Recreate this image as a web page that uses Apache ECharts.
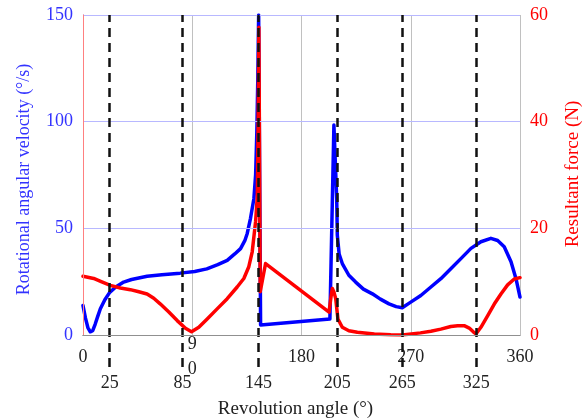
<!DOCTYPE html>
<html>
<head>
<meta charset="utf-8">
<script src="https://cdn.jsdelivr.net/npm/echarts@6/dist/echarts.min.js"></script>
<style>html,body{margin:0;padding:0;background:#fff}#c{width:586px;height:419px}</style>
</head>
<body>
<div id="c"></div>
<script>
// Rotational angular velocity (°/s) vs revolution angle (°)
const velocityData = [
  [0,13.8],[2,8],[4,3.5],[6,1.5],[7,1.3],[8,2],[10,5],[12,8.5],[14.3,12.3],[18,16.5],[22,20],
  [27,22.5],[33.5,24.8],[40,26],[52.8,27.5],[65,28.2],[80,29],[92,29.8],[102,31],[111,33],
  [118.8,35],[125,38],[129.8,40.5],[133.5,44.5],[135.3,47.6],[138,54.7],[140.8,64],[142.2,75],
  [143.2,95],[144,120],[144.7,150],[145.3,150],[146.3,4.7],
  [203.4,7.5],[206.7,98.4],[209,64],[209.5,46.8],[211,38],[213.6,33.5],[219,28],[224.6,24.8],
  [231,21.5],[238.4,19.3],[245,16.8],[252.1,14.6],[258,13.3],[263,12.8],[270,15.4],[278.3,18.5],
  [286.6,22.5],[294.8,26.4],[303,31],[311.3,35.8],[319.6,40.6],[327.8,43.7],[336,45.3],
  [341.6,44.3],[347,41.4],[352.6,34.3],[356.7,26.4],[360,17.8]
];
// Resultant force (N) vs revolution angle (°)
const forceData = [
  [0,11],[8.8,10.6],[15,10],[22.5,9.3],[30.8,8.8],[39,8.5],[46,8.1],[52.8,7.7],[58.3,6.9],[63.8,5.8],
  [70.7,4.3],[77.6,2.7],[84.4,1.25],[89.4,0.6],[95.4,1.45],[102.3,3],[110.5,4.9],[118.8,6.8],
  [127,9],[132.5,10.6],[136.6,12.8],[139.4,15.6],[142.2,21.3],[143.6,26],[144.3,40],[144.9,57.7],
  [145.5,30],[146,8.1],[150.4,13.4],
  [202.7,4.3],[204.2,7],[205.4,8.7],[206.8,8],[208.2,6.8],[210,3],[213.6,1.45],[219,0.8],[226,0.5],
  [240,0.2],[253.5,0.05],[263,0],[278,0.4],[286.6,0.7],[294.8,1.1],[303,1.6],[308.6,1.75],
  [314,1.75],[318.2,1.3],[321.5,0.6],[323.7,0.2],[327.8,1.45],[333.3,3.6],[338.8,5.8],[344.3,7.7],
  [349.8,9.4],[355.3,10.5],[360,10.75]
];
// x tick labels
const xTickValues = [0,90,180,270,360];
const xTickLabels = ['0','9\n0','180','270','360'];
// dashed reference lines (drawn position in degrees) and their labels
const dashedAngles = [22,82,144.5,209.5,263,324];
const dashedLabels = ['25','85','145','205','265','325'];

const FONT = 'Liberation Serif';
const chart = echarts.init(document.getElementById('c'), null, {renderer:'canvas'});
const gridA = {left:83, right:66, top:15, bottom:84, outerBoundsMode:'none', containLabel:false};
const gridB = {left:83, right:66, top:15, bottom:52, outerBoundsMode:'none', containLabel:false};

chart.setOption({
  animation:false,
  backgroundColor:'#fff',
  grid:[gridA, gridB],
  xAxis:[
    {gridIndex:0, type:'value', min:0, max:360, interval:90,
     axisLine:{lineStyle:{color:'#808080', width:1}},
     axisTick:{show:false},
     splitLine:{show:true, lineStyle:{color:'#c0c0c0', width:1}},
     axisLabel:{color:'#222', fontFamily:FONT, fontSize:18, margin:22, verticalAlign:'middle', lineHeight:25,
       formatter:v=>{const i=xTickValues.indexOf(v);return i>=0?xTickLabels[i]:'';}},
     name:'Revolution angle (°)', nameLocation:'middle', nameGap:65,
     nameTextStyle:{color:'#222', fontFamily:FONT, fontSize:19, padding:[0,12,0,0]}},
    {gridIndex:0, type:'value', min:0, max:360, position:'top', z:5,
     axisLine:{show:true, lineStyle:{color:'#909090', width:1}},
     axisTick:{show:false}, axisLabel:{show:false}, splitLine:{show:false}},
    {gridIndex:1, type:'value', min:0, max:360,
     axisLine:{show:false}, axisTick:{show:false}, splitLine:{show:false},
     axisLabel:{customValues:dashedAngles, color:'#222', fontFamily:FONT, fontSize:18, margin:7,
       formatter:v=>{const i=dashedAngles.indexOf(v);return i>=0?dashedLabels[i]:'';}}}
  ],
  yAxis:[
    {gridIndex:0, type:'value', min:0, max:150, interval:50, position:'left', z:4,
     axisLine:{show:true, lineStyle:{color:'#8080ff', width:1}},
     axisTick:{show:false},
     splitLine:{show:true, lineStyle:{color:'#b8b8ff', width:1}},
     axisLabel:{color:'#3333ff', fontFamily:FONT, fontSize:18, margin:10},
     name:'Rotational angular velocity (°/s)', nameLocation:'middle', nameGap:50, nameRotate:90,
     nameTextStyle:{color:'#3333ff', fontFamily:FONT, fontSize:18, padding:[0,9,0,0]}},
    {gridIndex:0, type:'value', min:0, max:60, interval:20, position:'right', z:4,
     axisLine:{show:true, lineStyle:{color:'#ff8080', width:1}},
     axisTick:{show:false}, splitLine:{show:false},
     axisLabel:{color:'#ff0000', fontFamily:FONT, fontSize:18, margin:10},
     name:'Resultant force (N)', nameLocation:'middle', nameGap:44, nameRotate:90,
     nameTextStyle:{color:'#ff0000', fontFamily:FONT, fontSize:19, padding:[0,0,0,2]}},
    {gridIndex:1, type:'value', min:0, max:1, show:false}
  ],
  series:[
    {type:'line', xAxisIndex:0, yAxisIndex:0, data:velocityData, showSymbol:false, symbol:'none',
     smooth:false, lineStyle:{color:'#0000ff', width:3.5, join:'round', cap:'round'}, z:2, clip:true},
    {type:'line', xAxisIndex:0, yAxisIndex:1, data:forceData, showSymbol:false, symbol:'none',
     smooth:false, lineStyle:{color:'#ff0000', width:3.5, join:'round', cap:'round'}, z:3, clip:true},
    {type:'line', xAxisIndex:2, yAxisIndex:2, data:dashedAngles.map(a=>[a,0]), showSymbol:false, symbol:'none',
     lineStyle:{opacity:0}, z:10, silent:true,
     markLine:{silent:true, symbol:'none', label:{show:false}, animation:false,
       lineStyle:{color:'#111', type:[9,6], width:2.5},
       data:dashedAngles.map(a=>({xAxis:a}))}}
  ]
});
</script>
</body>
</html>
